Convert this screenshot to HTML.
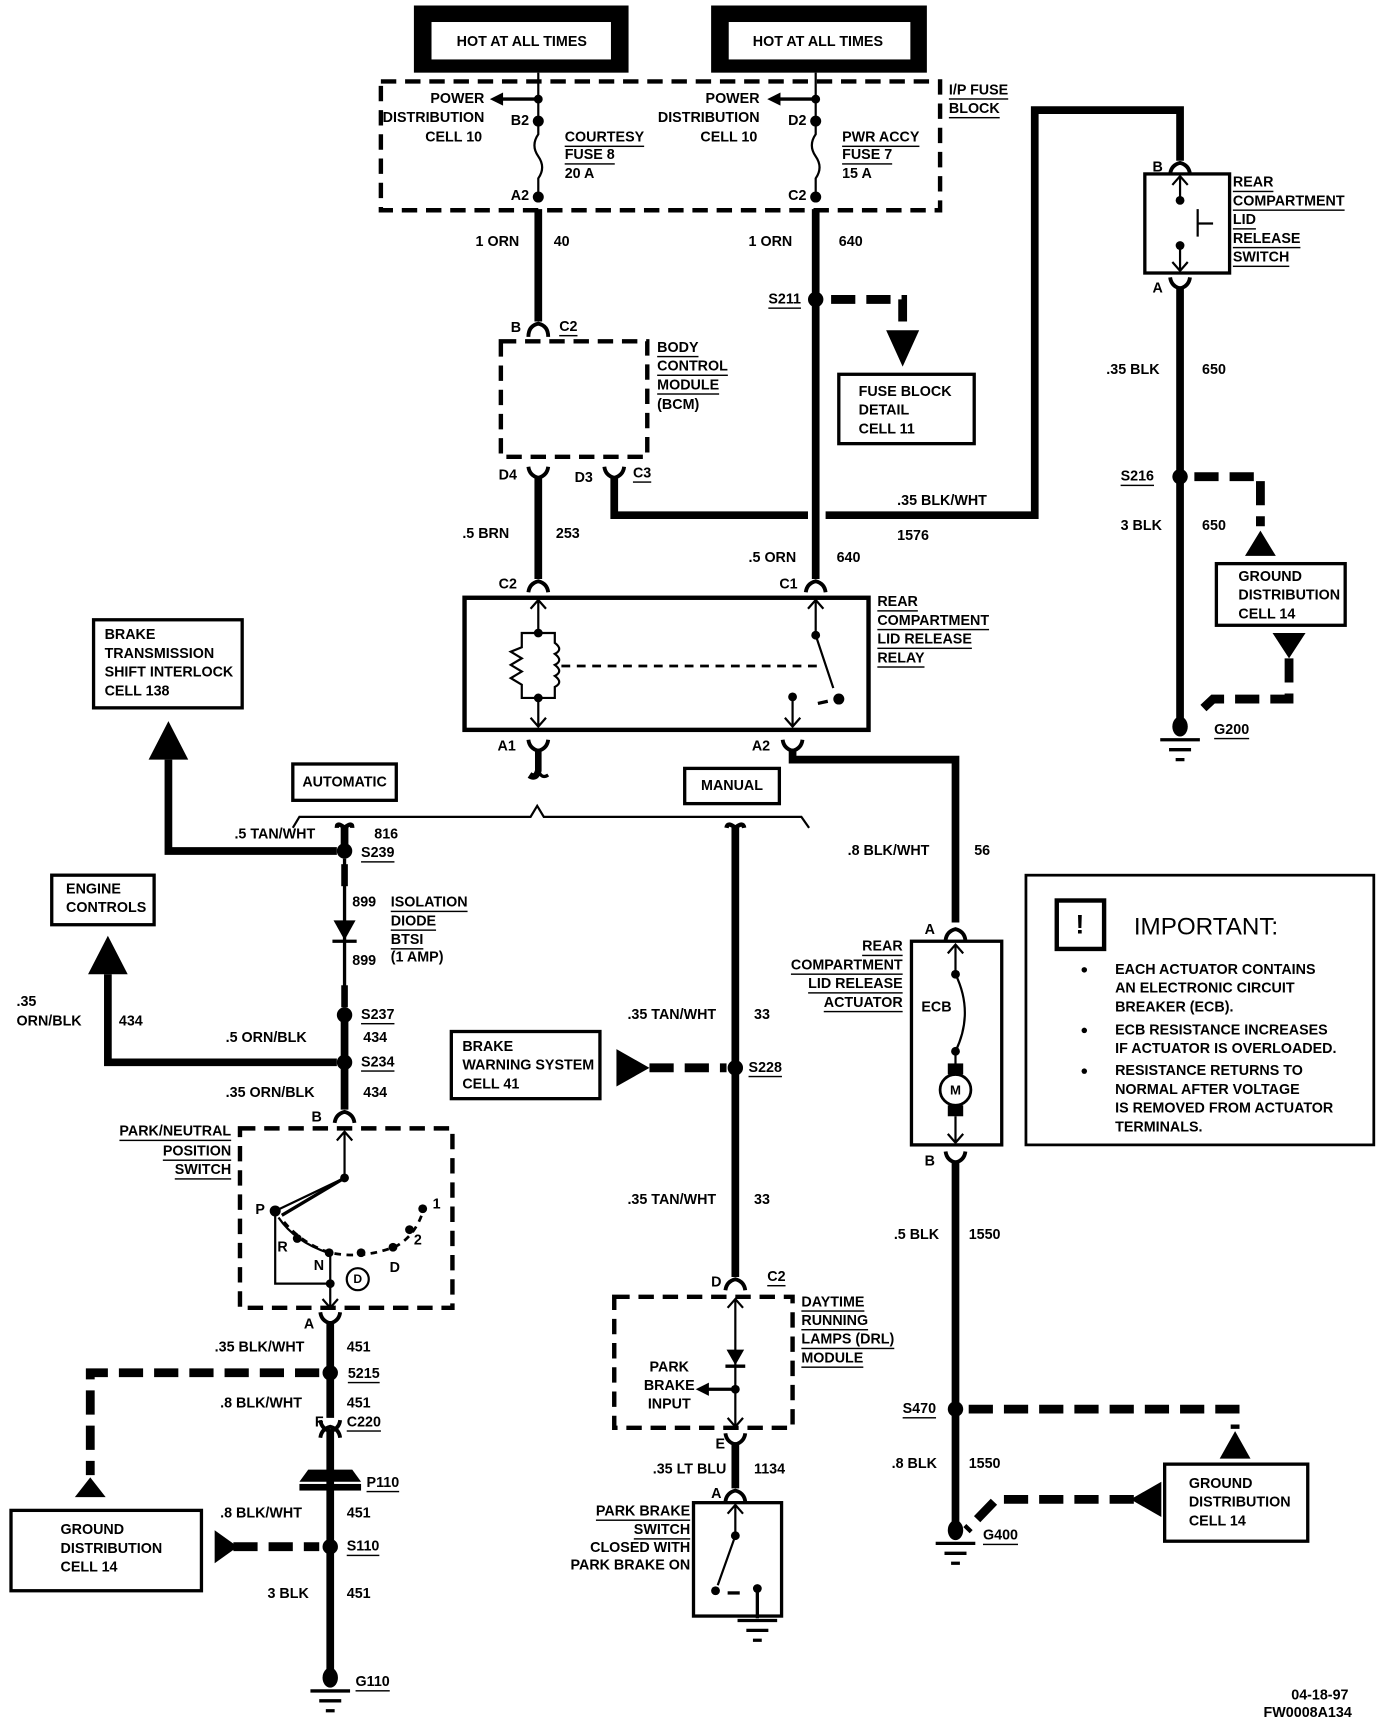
<!DOCTYPE html>
<html><head><meta charset="utf-8"><style>
html,body{margin:0;padding:0;background:#fff}
svg{display:block}
text{font-family:"Liberation Sans Narrow","Liberation Sans",sans-serif;font-weight:bold;font-size:13px;dominant-baseline:central;fill:#000}
.u{text-decoration:underline}
.w{stroke:#000;stroke-width:7;fill:none}
.t{stroke:#000;stroke-width:2;fill:none}
.db{stroke:#000;stroke-width:4;fill:none;stroke-dasharray:14 8}
.dl{stroke:#000;stroke-width:8;fill:none;stroke-dasharray:22 10}
.bx{stroke:#000;stroke-width:3;fill:#fff}
.c{stroke:#000;stroke-width:3.5;fill:none}
</style></head><body>
<svg width="1376" height="1730" viewBox="0 0 1250 1571.5" preserveAspectRatio="none" xmlns="http://www.w3.org/2000/svg">
<rect x="376" y="5" width="195" height="61" fill="#000"/>
<rect x="392" y="20" width="163" height="34" fill="#fff"/>
<text x="474" y="38" text-anchor="middle">HOT AT ALL TIMES</text>
<rect x="646" y="5" width="196" height="61" fill="#000"/>
<rect x="662" y="20" width="165" height="34" fill="#fff"/>
<text x="743" y="38" text-anchor="middle">HOT AT ALL TIMES</text>
<rect x="346" y="74" width="508" height="117" class="db"/>
<text x="862" y="82" class="u">I/P FUSE</text><text x="862" y="99" class="u">BLOCK</text>
<line x1="489" y1="66" x2="489" y2="112" class="t"/>
<line x1="489" y1="90" x2="455" y2="90" stroke="#000" stroke-width="3"/><path d="M445 90 L457 84 L457 96Z"/>
<circle cx="489" cy="90" r="4"/><circle cx="489" cy="110" r="5"/>
<path d="M489 112 L489 122 Q482 132 489 142 Q496 152 489 162 L489 180" class="t"/>
<circle cx="489" cy="179" r="5"/>
<text x="440" y="90" text-anchor="end">POWER</text><text x="440" y="107" text-anchor="end">DISTRIBUTION</text><text x="438" y="125" text-anchor="end">CELL 10</text>
<text x="464" y="110">B2</text><text x="464" y="178">A2</text>
<text x="513" y="125" class="u">COURTESY</text><text x="513" y="141" class="u">FUSE 8</text><text x="513" y="158">20 A</text>
<line x1="741" y1="66" x2="741" y2="112" class="t"/>
<line x1="741" y1="90" x2="707" y2="90" stroke="#000" stroke-width="3"/><path d="M697 90 L709 84 L709 96Z"/>
<circle cx="741" cy="90" r="4"/><circle cx="741" cy="110" r="5"/>
<path d="M741 112 L741 122 Q734 132 741 142 Q748 152 741 162 L741 180" class="t"/>
<circle cx="741" cy="179" r="5"/>
<text x="690" y="90" text-anchor="end">POWER</text><text x="690" y="107" text-anchor="end">DISTRIBUTION</text><text x="688" y="125" text-anchor="end">CELL 10</text>
<text x="716" y="110">D2</text><text x="716" y="178">C2</text>
<text x="765" y="125" class="u">PWR ACCY</text><text x="765" y="141" class="u">FUSE 7</text><text x="765" y="158">15 A</text>
<line x1="489" y1="190" x2="489" y2="292" class="w"/>
<text x="432" y="220">1 ORN</text><text x="503" y="220">40</text>
<path d="M480 306 Q480 296 489 294 Q498 296 498 306" class="c"/>
<text x="464" y="298">B</text><text x="508" y="297" class="u">C2</text>
<rect x="455" y="310" width="133" height="105" class="db"/>
<text x="597" y="316" class="u">BODY</text><text x="597" y="333" class="u">CONTROL</text><text x="597" y="350" class="u">MODULE</text><text x="597" y="368">(BCM)</text>
<path d="M480 424 Q481 432 489 434 Q497 432 498 424" class="c"/>
<line x1="489" y1="433" x2="489" y2="526" class="w"/>
<text x="453" y="432">D4</text><text x="522" y="434">D3</text>
<path d="M549 424 Q550 432 558 434 Q566 432 567 424" class="c"/>
<text x="575" y="430" class="u">C3</text>
<text x="420" y="485">.5 BRN</text><text x="505" y="485">253</text>
<line x1="741" y1="190" x2="741" y2="526" class="w"/>
<text x="680" y="220">1 ORN</text><text x="762" y="220">640</text>
<circle cx="741" cy="272" r="7"/>
<text x="698" y="272" class="u">S211</text>
<path d="M755 272 L820 272 L820 292" class="dl"/>
<path d="M805 300 L835 300 L820 333Z"/>
<rect x="762" y="340" width="123" height="63" class="bx" stroke-width="2"/>
<text x="780" y="356">FUSE BLOCK</text><text x="780" y="373">DETAIL</text><text x="780" y="390">CELL 11</text>
<text x="680" y="507">.5 ORN</text><text x="760" y="507">640</text>
<path d="M558 434 L558 468 L734 468 M750 468 L940 468 L940 100 L1072 100 L1072 146" class="w"/>
<text x="815" y="455">.35 BLK/WHT</text><text x="815" y="487">1576</text>
<path d="M480 522 Q481 530 489 532 Q497 530 498 522" class="c" transform="rotate(180 489 530)"/>
<path d="M732 522 Q733 530 741 532 Q749 530 750 522" class="c" transform="rotate(180 741 530)"/>
<text x="453" y="531">C2</text><text x="708" y="531">C1</text>
<rect x="422" y="543" width="367" height="120" fill="none" stroke="#000" stroke-width="4"/>
<text x="797" y="547" class="u">REAR</text><text x="797" y="564" class="u">COMPARTMENT</text><text x="797" y="581" class="u">LID RELEASE</text><text x="797" y="598" class="u">RELAY</text>
<path d="M489 545 L489 575 M482 553 L489 545 L496 553" class="t"/>
<circle cx="489" cy="575" r="4"/><circle cx="489" cy="634" r="4"/>
<path d="M489 575 L474 575 L474 588 L464 592 L474 598 L464 604 L474 610 L464 616 L474 622 L474 634 L504 634 L504 624 Q512 620 504 614 Q512 610 504 604 Q512 600 504 594 Q512 590 504 584 L504 575 L489 575" class="t"/>
<path d="M489 634 L489 660 M482 652 L489 660 L496 652" class="t"/>
<line x1="510" y1="605" x2="748" y2="605" stroke="#000" stroke-width="2.5" stroke-dasharray="8 6"/>
<path d="M741 545 L741 577 L757 625 M734 553 L741 545 L748 553" class="t"/>
<circle cx="741" cy="577" r="4"/><circle cx="762" cy="635" r="5"/>
<line x1="743" y1="639" x2="752" y2="637" stroke="#000" stroke-width="3"/>
<circle cx="720" cy="633" r="4"/>
<path d="M720 633 L720 660 M713 652 L720 660 L727 652" class="t"/>
<path d="M480 672 Q481 680 489 682 Q497 680 498 672" class="c"/>
<path d="M489 680 L489 700 Q487 708 481 704" stroke="#000" stroke-width="6" fill="none"/>
<path d="M489 700 Q492 708 498 704" stroke="#000" stroke-width="3" fill="none"/>
<text x="452" y="678">A1</text>
<path d="M711 672 Q712 680 720 682 Q728 680 729 672" class="c"/>
<path d="M720 680 L720 690 L868 690 L868 838" class="w"/>
<text x="683" y="678">A2</text>
<path d="M266 752 L272 742 L482 742 L488 732 L494 742 L728 742 L735 752" class="t"/>
<rect x="266" y="694" width="94" height="33" class="bx" stroke-width="2.5"/><text x="313" y="711" text-anchor="middle">AUTOMATIC</text>
<rect x="622" y="698" width="86" height="32" class="bx" stroke-width="2.5"/><text x="665" y="714" text-anchor="middle">MANUAL</text>
<path d="M306 752 Q306 746 313 752 Q320 746 320 752" stroke="#000" stroke-width="4" fill="none"/>
<line x1="313" y1="752" x2="313" y2="773" class="w"/>
<circle cx="313" cy="773" r="7"/>
<text x="213" y="758">.5 TAN/WHT</text><text x="340" y="758">816</text><text x="328" y="775" class="u">S239</text>
<path d="M306 773 L153 773 L153 690" class="w"/>
<path d="M135 690 L171 690 L153 655Z"/>
<rect x="85" y="563" width="135" height="80" class="bx" stroke-width="2.5"/>
<text x="95" y="577">BRAKE</text><text x="95" y="594">TRANSMISSION</text><text x="95" y="611">SHIFT INTERLOCK</text><text x="95" y="628">CELL 138</text>
<line x1="313" y1="780" x2="313" y2="915" stroke="#000" stroke-width="3"/>
<line x1="313" y1="785" x2="313" y2="805" stroke="#000" stroke-width="6"/>
<line x1="313" y1="895" x2="313" y2="915" stroke="#000" stroke-width="6"/>
<path d="M303 836 L323 836 L313 854Z"/><line x1="302" y1="855" x2="324" y2="855" stroke="#000" stroke-width="3"/>
<text x="320" y="820">899</text><text x="320" y="873">899</text>
<text x="355" y="820" class="u">ISOLATION</text><text x="355" y="837" class="u">DIODE</text><text x="355" y="854" class="u">BTSI</text><text x="355" y="870">(1 AMP)</text>
<circle cx="313" cy="922" r="7"/><text x="328" y="922" class="u">S237</text>
<line x1="313" y1="922" x2="313" y2="1008" class="w"/>
<text x="205" y="943">.5 ORN/BLK</text><text x="330" y="943">434</text>
<circle cx="313" cy="965" r="7"/><text x="328" y="965" class="u">S234</text>
<path d="M306 965 L98 965 L98 885" class="w"/>
<path d="M80 885 L116 885 L98 850Z"/>
<rect x="47" y="795" width="93" height="45" class="bx" stroke-width="2.5"/>
<text x="60" y="808">ENGINE</text><text x="60" y="825">CONTROLS</text>
<text x="15" y="910">.35</text><text x="15" y="928">ORN/BLK</text><text x="108" y="928">434</text>
<text x="205" y="993">.35 ORN/BLK</text><text x="330" y="993">434</text>
<path d="M304 1020 Q305 1012 313 1010 Q321 1012 322 1020" class="c"/>
<text x="283" y="1015">B</text>
<rect x="218" y="1025" width="193" height="163" class="db"/>
<text x="210" y="1028" text-anchor="end" class="u">PARK/NEUTRAL</text><text x="210" y="1046" text-anchor="end" class="u">POSITION</text><text x="210" y="1063" text-anchor="end" class="u">SWITCH</text>
<path d="M313 1028 L313 1070 L250 1100 M306 1036 L313 1028 L320 1036" class="t"/>
<circle cx="313" cy="1070" r="4"/><circle cx="250" cy="1100" r="5"/>
<path d="M256 1104 L313 1070" stroke="#000" stroke-width="3"/>
<path d="M253 1106 Q268 1128 298 1138 M300 1140 L300 1166 L250 1166 L250 1100" class="t"/>
<path d="M258 1110 Q275 1130 300 1138 Q330 1144 360 1132 Q378 1122 385 1098" fill="none" stroke="#000" stroke-width="2.5" stroke-dasharray="6 5"/>
<circle cx="270" cy="1125" r="4"/><circle cx="299" cy="1138" r="4"/><circle cx="328" cy="1138" r="4"/><circle cx="357" cy="1133" r="4"/><circle cx="372" cy="1117" r="4"/><circle cx="384" cy="1098" r="4"/>
<circle cx="300" cy="1166" r="4"/>
<path d="M300 1166 L300 1188 M293 1180 L300 1188 L307 1180" class="t"/>
<circle cx="325" cy="1162" r="10" fill="none" stroke="#000" stroke-width="2"/><text x="325" y="1162" text-anchor="middle" style="font-size:11px">D</text>
<text x="232" y="1099">P</text><text x="252" y="1133">R</text><text x="285" y="1150">N</text><text x="354" y="1152">D</text><text x="376" y="1127">2</text><text x="393" y="1094">1</text>
<path d="M291 1192 Q292 1200 300 1202 Q308 1200 309 1192" class="c"/>
<text x="276" y="1203">A</text>
<line x1="300" y1="1200" x2="300" y2="1288" class="w"/>
<text x="195" y="1224">.35 BLK/WHT</text><text x="315" y="1224">451</text>
<circle cx="300" cy="1247" r="7"/><text x="316" y="1248" class="u">5215</text>
<path d="M290 1247 L82 1247 L82 1340" class="dl"/>
<path d="M68 1360 L96 1360 L82 1342Z"/>
<rect x="10" y="1372" width="173" height="73" class="bx" stroke-width="2.5"/>
<text x="55" y="1390">GROUND</text><text x="55" y="1407">DISTRIBUTION</text><text x="55" y="1424">CELL 14</text>
<text x="200" y="1275">.8 BLK/WHT</text><text x="315" y="1275">451</text>
<path d="M291 1290 Q292 1298 300 1300 Q308 1298 309 1290" class="c"/>
<path d="M291 1306 Q292 1298 300 1296 Q308 1298 309 1306" class="c"/>
<text x="286" y="1292">F</text><text x="315" y="1292" class="u">C220</text>
<line x1="300" y1="1300" x2="300" y2="1518" class="w"/>
<path d="M280 1335 L320 1335 L328 1346 L272 1346Z"/><rect x="272" y="1348" width="56" height="6"/>
<text x="333" y="1347" class="u">P110</text>
<text x="200" y="1375">.8 BLK/WHT</text><text x="315" y="1375">451</text>
<circle cx="300" cy="1405" r="7"/><text x="315" y="1405" class="u">S110</text>
<path d="M212 1405 L290 1405" class="dl"/>
<path d="M195 1390 L195 1420 L216 1405Z"/>
<text x="243" y="1448">3 BLK</text><text x="315" y="1448">451</text>
<ellipse cx="300" cy="1524" rx="7" ry="9"/>
<path d="M282 1536 L318 1536 M290 1545 L310 1545 M296 1554 L304 1554" stroke="#000" stroke-width="3"/>
<text x="323" y="1528" class="u">G110</text>
<path d="M660 752 Q661 746 668 752 Q675 746 676 752" stroke="#000" stroke-width="4" fill="none"/>
<line x1="668" y1="752" x2="668" y2="1160" class="w"/>
<text x="570" y="922">.35 TAN/WHT</text><text x="685" y="922">33</text>
<circle cx="668" cy="970" r="7"/><text x="680" y="970" class="u">S228</text>
<path d="M590 970 L660 970" class="dl"/>
<path d="M560 953 L560 987 L590 970Z"/>
<rect x="410" y="937" width="135" height="61" class="bx" stroke-width="2.5"/>
<text x="420" y="951">BRAKE</text><text x="420" y="968">WARNING SYSTEM</text><text x="420" y="985">CELL 41</text>
<text x="570" y="1090">.35 TAN/WHT</text><text x="685" y="1090">33</text>
<path d="M659 1172 Q660 1164 668 1162 Q676 1164 677 1172" class="c"/>
<text x="646" y="1165">D</text><text x="697" y="1160" class="u">C2</text>
<rect x="558" y="1178" width="162" height="119" class="db"/>
<text x="728" y="1183" class="u">DAYTIME</text><text x="728" y="1200" class="u">RUNNING</text><text x="728" y="1217" class="u">LAMPS (DRL)</text><text x="728" y="1234" class="u">MODULE</text>
<path d="M668 1180 L668 1296 M661 1188 L668 1180 L675 1188 M661 1288 L668 1296 L675 1288" class="t"/>
<path d="M660 1226 L676 1226 L668 1240Z"/><line x1="659" y1="1241" x2="677" y2="1241" stroke="#000" stroke-width="3"/>
<circle cx="668" cy="1262" r="4"/>
<line x1="668" y1="1262" x2="642" y2="1262" stroke="#000" stroke-width="3"/><path d="M632 1262 L644 1256 L644 1268Z"/>
<text x="608" y="1242" text-anchor="middle">PARK</text><text x="608" y="1259" text-anchor="middle">BRAKE</text><text x="608" y="1276" text-anchor="middle">INPUT</text>
<path d="M659 1302 Q660 1310 668 1312 Q676 1310 677 1302" class="c"/>
<text x="650" y="1312">E</text>
<line x1="668" y1="1310" x2="668" y2="1352" class="w"/>
<text x="593" y="1335">.35 LT BLU</text><text x="685" y="1335">1134</text>
<path d="M659 1364 Q660 1356 668 1354 Q676 1356 677 1364" class="c"/>
<text x="646" y="1357">A</text>
<rect x="630" y="1365" width="80" height="103" fill="none" stroke="#000" stroke-width="3"/>
<path d="M668 1367 L668 1395 L652 1440 M661 1375 L668 1367 L675 1375" class="t"/>
<circle cx="668" cy="1395" r="4"/><circle cx="650" cy="1445" r="4"/><circle cx="688" cy="1443" r="4"/>
<line x1="661" y1="1447" x2="672" y2="1447" stroke="#000" stroke-width="3"/>
<path d="M688 1443 L688 1470" stroke="#000" stroke-width="3"/>
<path d="M670 1472 L706 1472 M678 1481 L698 1481 M684 1490 L692 1490" stroke="#000" stroke-width="3"/>
<text x="627" y="1373" text-anchor="end" class="u">PARK BRAKE</text><text x="627" y="1390" text-anchor="end" class="u">SWITCH</text><text x="627" y="1406" text-anchor="end">CLOSED WITH</text><text x="627" y="1422" text-anchor="end">PARK BRAKE ON</text>
<text x="770" y="773">.8 BLK/WHT</text><text x="885" y="773">56</text>
<path d="M859 854 Q860 846 868 844 Q876 846 877 854" class="c"/>
<text x="840" y="845">A</text>
<rect x="828" y="855" width="82" height="185" fill="none" stroke="#000" stroke-width="3"/>
<text x="820" y="860" text-anchor="end" class="u">REAR</text><text x="820" y="877" text-anchor="end" class="u">COMPARTMENT</text><text x="820" y="894" text-anchor="end" class="u">LID RELEASE</text><text x="820" y="911" text-anchor="end" class="u">ACTUATOR</text>
<path d="M868 858 L868 885 M861 866 L868 858 L875 866" class="t"/>
<circle cx="868" cy="885" r="4"/><circle cx="868" cy="955" r="4"/>
<path d="M868 885 Q885 920 868 955 L868 968" class="t"/>
<text x="837" y="915">ECB</text>
<rect x="861" y="966" width="14" height="10"/><rect x="861" y="1004" width="14" height="10"/>
<circle cx="868" cy="990" r="14" fill="#fff" stroke="#000" stroke-width="2.5"/><text x="868" y="990" text-anchor="middle" style="font-size:12px">M</text>
<path d="M868 1014 L868 1038 M861 1030 L868 1038 L875 1030" class="t"/>
<path d="M859 1046 Q860 1054 868 1056 Q876 1054 877 1046" class="c"/>
<text x="840" y="1055">B</text>
<line x1="868" y1="1054" x2="868" y2="1385" class="w"/>
<text x="812" y="1122">.5 BLK</text><text x="880" y="1122">1550</text>
<circle cx="868" cy="1280" r="7"/><text x="820" y="1280" class="u">S470</text>
<path d="M880 1280 L1122 1280 L1122 1298" class="dl"/>
<path d="M1108 1325 L1136 1325 L1122 1300Z"/>
<rect x="1058" y="1330" width="130" height="70" class="bx" stroke-width="2.5"/>
<text x="1080" y="1348">GROUND</text><text x="1080" y="1365">DISTRIBUTION</text><text x="1080" y="1382">CELL 14</text>
<text x="810" y="1330">.8 BLK</text><text x="880" y="1330">1550</text>
<path d="M1030 1362 L905 1362 L878 1390" class="dl"/>
<path d="M1055 1346 L1055 1378 L1027 1362Z"/>
<ellipse cx="868" cy="1390" rx="7" ry="9"/>
<path d="M850 1402 L886 1402 M858 1411 L878 1411 M864 1420 L872 1420" stroke="#000" stroke-width="3"/>
<text x="893" y="1395" class="u">G400</text>
<rect x="932" y="795" width="316" height="245" fill="none" stroke="#000" stroke-width="2.5"/>
<rect x="960" y="818" width="43" height="44" fill="none" stroke="#000" stroke-width="4"/>
<text x="981" y="840" text-anchor="middle" style="font-size:24px">!</text>
<text x="1030" y="842" style="font-size:22px;font-weight:normal;font-family:'Liberation Sans',sans-serif">IMPORTANT:</text>
<circle cx="985" cy="881" r="2.5"/><circle cx="985" cy="936" r="2.5"/><circle cx="985" cy="973" r="2.5"/>
<text x="1013" y="881">EACH ACTUATOR CONTAINS</text><text x="1013" y="898">AN ELECTRONIC CIRCUIT</text><text x="1013" y="915">BREAKER (ECB).</text>
<text x="1013" y="936">ECB RESISTANCE INCREASES</text><text x="1013" y="953">IF ACTUATOR IS OVERLOADED.</text>
<text x="1013" y="973">RESISTANCE RETURNS TO</text><text x="1013" y="990">NORMAL AFTER VOLTAGE</text><text x="1013" y="1007">IS REMOVED FROM ACTUATOR</text><text x="1013" y="1024">TERMINALS.</text>
<path d="M1063 158 Q1064 150 1072 148 Q1080 150 1081 158" class="c"/>
<text x="1047" y="152">B</text>
<rect x="1040" y="158" width="77" height="90" fill="none" stroke="#000" stroke-width="3"/>
<path d="M1072 160 L1072 180 M1065 168 L1072 160 L1079 168 M1072 246 L1072 225 M1065 238 L1072 246 L1079 238" class="t"/>
<circle cx="1072" cy="182" r="4"/><circle cx="1072" cy="223" r="4"/>
<path d="M1088 190 L1088 215 M1088 203 L1102 203" class="t"/>
<text x="1120" y="166" class="u">REAR</text><text x="1120" y="183" class="u">COMPARTMENT</text><text x="1120" y="200" class="u">LID</text><text x="1120" y="217" class="u">RELEASE</text><text x="1120" y="234" class="u">SWITCH</text>
<path d="M1063 252 Q1064 260 1072 262 Q1080 260 1081 252" class="c"/>
<text x="1047" y="262">A</text>
<line x1="1072" y1="260" x2="1072" y2="655" class="w"/>
<text x="1005" y="336">.35 BLK</text><text x="1092" y="336">650</text>
<circle cx="1072" cy="433" r="7"/><text x="1018" y="433" class="u">S216</text>
<path d="M1085 433 L1145 433 L1145 478" class="dl"/>
<path d="M1131 505 L1159 505 L1145 482Z"/>
<rect x="1105" y="512" width="117" height="56" class="bx" stroke-width="2.5"/>
<text x="1125" y="524">GROUND</text><text x="1125" y="541">DISTRIBUTION</text><text x="1125" y="558">CELL 14</text>
<text x="1018" y="478">3 BLK</text><text x="1092" y="478">650</text>
<path d="M1156 575 L1186 575 L1171 598Z"/>
<path d="M1171 598 L1171 635 L1102 635 L1086 650" class="dl"/>
<ellipse cx="1072" cy="660" rx="7" ry="9"/>
<path d="M1054 672 L1090 672 M1062 681 L1082 681 M1068 690 L1076 690" stroke="#000" stroke-width="3"/>
<text x="1103" y="663" class="u">G200</text>
<text x="1225" y="1540" text-anchor="end">04-18-97</text>
<text x="1228" y="1556" text-anchor="end">FW0008A134</text>
</svg>
</body></html>
